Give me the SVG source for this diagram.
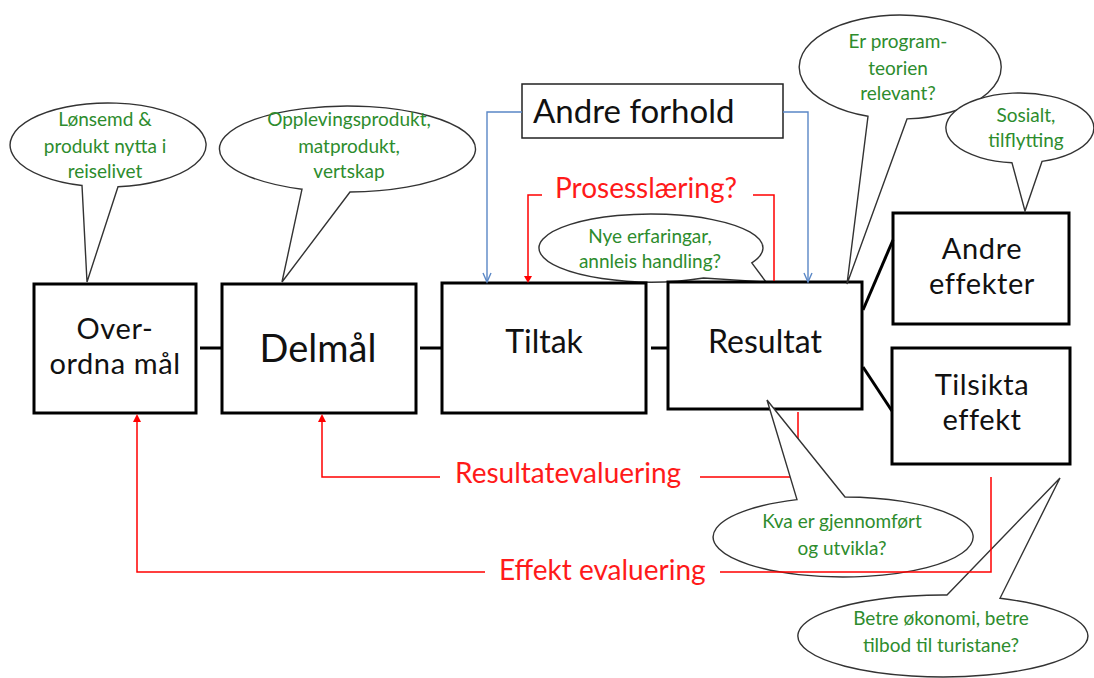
<svg xmlns="http://www.w3.org/2000/svg" width="1094" height="678" viewBox="0 0 1094 678">
<defs>
<style>
.box{fill:#fff;stroke:#000;stroke-width:3}
.lbl{font-family:Lato,"Liberation Sans",sans-serif;font-size:32px;fill:#111;text-anchor:middle}
.lbl2{font-family:Lato,"Liberation Sans",sans-serif;font-size:29px;letter-spacing:0.6px;fill:#111;text-anchor:middle}
.co{fill:#fff;stroke:#333;stroke-width:1.4;stroke-linejoin:miter}
.gt{font-family:Lato,"Liberation Sans",sans-serif;font-size:19px;fill:#2d8c2d;text-anchor:middle}
.rt{font-family:Lato,"Liberation Sans",sans-serif;font-size:28px;fill:#ff1a1a}
.blk{stroke:#000;stroke-width:3;fill:none}
.blue{stroke:#5a87c6;stroke-width:1.4;fill:none}
.red{stroke:#ff0000;stroke-width:1.5;fill:none}
.rah{fill:#ff0000}
</style>
</defs>
<rect width="1094" height="678" fill="#fff"/>

<g id="callout-nye">
<path class="co" d="M751.8,262.8 L766,282 L703.6,278 A112 34 0 1 1 751.8,262.8 Z"/>
<text class="gt" x="650" y="243">Nye erfaringar,</text>
<text class="gt" x="650" y="268">annleis handling?</text>
</g>

<g id="node-overordna">
<rect class="box" x="34" y="284" width="162" height="129"/>
<text class="lbl2" x="115" y="339">Over-</text>
<text class="lbl2" x="115" y="374">ordna mål</text>
</g>
<g id="node-delmal">
<rect class="box" x="222" y="284" width="194" height="129"/>
<text class="lbl" x="318" y="362" style="font-size:38px">Delmål</text>
</g>
<g id="node-tiltak">
<rect class="box" x="442" y="283" width="204" height="130"/>
<text class="lbl" x="544" y="353">Tiltak</text>
</g>
<g id="node-resultat">
<rect class="box" x="668" y="282" width="194" height="127"/>
<text class="lbl" x="765" y="353">Resultat</text>
</g>
<g id="node-andre-effekter">
<rect class="box" x="893" y="213" width="176" height="111"/>
<text class="lbl2" x="982" y="259">Andre</text>
<text class="lbl2" x="982" y="294">effekter</text>
</g>
<g id="node-tilsikta">
<rect class="box" x="892" y="348" width="178" height="116"/>
<text class="lbl2" x="982" y="395">Tilsikta</text>
<text class="lbl2" x="982" y="430">effekt</text>
</g>
<g id="node-andre-forhold">
<rect x="522" y="84" width="261" height="54" fill="#fff" stroke="#222" stroke-width="1.5"/>
<text x="533" y="123" style="font-family:Lato,'Liberation Sans',sans-serif;font-size:33px;fill:#111">Andre forhold</text>
</g>

<g id="callout-lonsemd">
<path class="co" d="M118,186.8 L87,282 L82,185.5 A98 42 0 1 1 118,186.8 Z"/>
<text class="gt" x="105" y="126">Lønsemd &amp;</text>
<text class="gt" x="105" y="153">produkt nytta i</text>
<text class="gt" x="105" y="178">reiselivet</text>
</g>
<g id="callout-oppleving">
<path class="co" d="M350,192 L282,282 L302,189.2 A128 43 0 1 1 350,192 Z"/>
<text class="gt" x="349" y="126">Opplevingsprodukt,</text>
<text class="gt" x="349" y="153">matprodukt,</text>
<text class="gt" x="349" y="178">vertskap</text>
</g>
<g id="callout-program">
<path class="co" d="M907,118.9 L847,284 L868,116.3 A101 52 0 1 1 907,118.9 Z"/>
<text class="gt" x="898" y="48">Er program-</text>
<text class="gt" x="898" y="75">teorien</text>
<text class="gt" x="898" y="100">relevant?</text>
</g>
<g id="callout-sosialt">
<path class="co" d="M1042,161.4 L1025,211 L1012,162.8 A74 35 0 1 1 1042,161.4 Z"/>
<text class="gt" x="1026" y="122">Sosialt,</text>
<text class="gt" x="1026" y="147">tilflytting</text>
</g>
<g id="callout-betre">
<path class="co" d="M947,595 L1060,478 L1000,598.3 A145 41 0 1 1 947,595 Z"/>
<text class="gt" x="941" y="625">Betre økonomi, betre</text>
<text class="gt" x="941" y="652">tilbod til turistane?</text>
</g>

<g id="connectors">
<line class="blk" x1="200" y1="348" x2="222" y2="348"/>
<line class="blk" x1="420" y1="348" x2="442" y2="348"/>
<line class="blk" x1="651" y1="348" x2="668" y2="348"/>
<line class="blk" x1="863" y1="310" x2="893" y2="240"/>
<line class="blk" x1="863" y1="367" x2="892" y2="411"/>
<path class="blue" d="M522,112 H487 V281"/>
<path class="blue" d="M483,273 L487,282 L491,273"/>
<path class="blue" d="M783,112 H808 V281"/>
<path class="blue" d="M804,273 L808,282 L812,273"/>
<path class="red" d="M542,195 H528 V277"/>
<path class="rah" d="M524,276 L528,283 L532,276 Z"/>
<path class="red" d="M753,195 H774 V281"/>
<path class="red" d="M440,477 H322 V421"/>
<path class="rah" d="M318,422 L322,414 L326,422 Z"/>
<path class="red" d="M700,477 H798 V412"/>
<text class="rt" x="555" y="198">Prosesslæring?</text>
<text class="rt" x="455" y="483">Resultatevaluering</text>
</g>

<g id="callout-kva">
<path class="co" d="M797,499.6 L767,400 L845,497 A130 40 0 1 1 797,499.6 Z"/>
<text class="gt" x="842" y="528">Kva er gjennomført</text>
<text class="gt" x="842" y="555">og utvikla?</text>
</g>

<g id="connectors-effekt">
<path class="red" d="M485,572 H137 V421"/>
<path class="rah" d="M133,422 L137,414 L141,422 Z"/>
<path class="red" d="M720,572 H991 V477"/>
<text class="rt" x="499" y="580">Effekt evaluering</text>
</g>
</svg>
